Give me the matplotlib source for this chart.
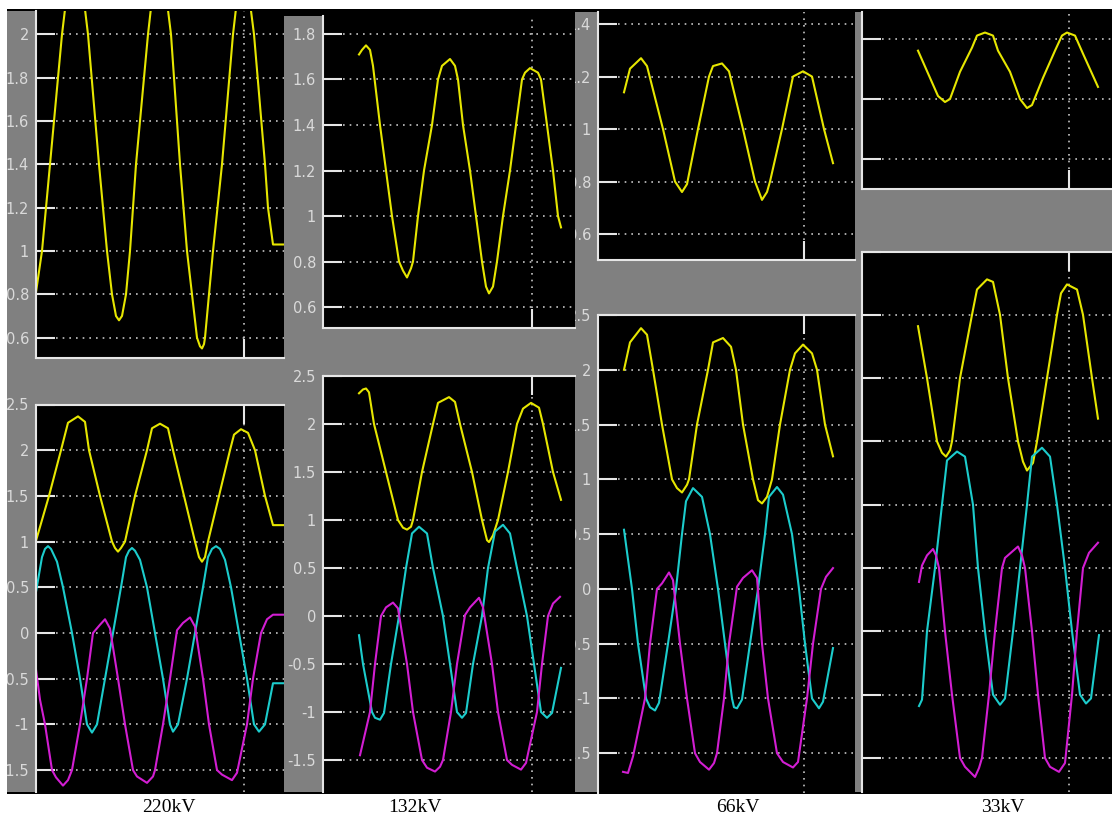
import matplotlib
matplotlib.use('Agg')
import matplotlib.pyplot as plt
from matplotlib.patches import Rectangle
from matplotlib.transforms import Bbox, TransformedBbox
from matplotlib.ticker import FuncFormatter

# --- 数据 (时间 ms, 幅值 pu) ---
# 220kV
T220_TOP = [0, 1.5, 6.5, 9.75, 13, 15.75, 17.75, 19, 20, 20.75, 21.5, 22.5, 23.5, 25, 28, 30.75, 33.75, 36,
            37.75, 39, 40.25, 41, 41.5, 42, 42.25, 44.25, 46.5, 49.25, 51.75, 54.5, 57.25, 58, 59.25, 62]
V220_TOP = [0.81, 1.0, 2.0, 2.5, 2.0, 1.4, 1.0, 0.8, 0.70, 0.68, 0.70, 0.8, 1.0, 1.4, 2.0, 2.45, 2.0, 1.4,
            1.0, 0.8, 0.6, 0.56, 0.55, 0.57, 0.6, 1.0, 1.4, 2.0, 2.4, 2.0, 1.4, 1.2, 1.03, 1.03]
T220_Y = [0, 3.25, 6.25, 8, 10.5, 12.25, 13.25, 16, 19, 19.75, 20.5, 21.25, 22.25, 24.75, 27.75, 29, 31, 33,
          34.25, 37, 39.75, 40.75, 41.5, 42.25, 43, 45.75, 48.5, 49.5, 51.25, 53, 54.75, 57.25, 59.25, 62]
V220_Y = [1.01, 1.5, 2.0, 2.30, 2.37, 2.31, 2.0, 1.5, 1.0, 0.93, 0.89, 0.93, 1.0, 1.5, 2.0, 2.24, 2.29, 2.24,
          2.0, 1.5, 1.0, 0.83, 0.78, 0.83, 1.0, 1.5, 2.0, 2.17, 2.23, 2.19, 2.0, 1.5, 1.18, 1.18]
T220_C = [0, 1.5, 2.25, 3, 3.75, 5.25, 6.75, 9, 11, 12.75, 14, 15.25, 17.25, 19.25, 21.25, 22.5, 23.25, 24,
          24.75, 26, 27.75, 29.75, 31.75, 33.5, 34.25, 35.5, 37.75, 39.75, 41.75, 43, 44, 45, 46, 47.25, 48.75,
          50.75, 52.75, 54.5, 55.75, 57.25, 59.25, 62]
V220_C = [0.45, 0.83, 0.92, 0.95, 0.92, 0.78, 0.5, 0, -0.5, -1.0, -1.09, -1.0, -0.5, 0, 0.5, 0.83, 0.90, 0.93,
          0.90, 0.8, 0.5, 0, -0.5, -1.0, -1.08, -1.0, -0.5, 0, 0.5, 0.83, 0.92, 0.95, 0.92, 0.8, 0.5,
          0, -0.5, -1.0, -1.08, -1.0, -0.55, -0.55]
T220_M = [0, 1, 2.25, 4, 5, 6.75, 8, 9, 11, 12.75, 14.25, 16, 17.25, 18.5, 20.5, 22.25, 24.25, 25.25, 27.75,
          29.25, 29.75, 31.75, 33.5, 35.25, 36.75, 38.5, 39.75, 41.75, 43.25, 45.25, 46.5, 49, 50.25, 52.75,
          54.25, 56.25, 57.75, 59.25, 62]
V220_M = [-0.40, -0.73, -1.0, -1.5, -1.58, -1.67, -1.61, -1.5, -1.0, -0.5, 0.0, 0.09, 0.15, 0.05, -0.5, -1.0,
          -1.5, -1.57, -1.64, -1.57, -1.5, -1.0, -0.5, 0.03, 0.11, 0.17, 0.07, -0.5, -1.0, -1.5, -1.55, -1.61,
          -1.53, -1.0, -0.5, 0.0, 0.15, 0.20, 0.20]

# 132kV
T132_TOP = [9, 9.75, 10.75, 11.75, 12.5, 14.25, 15.75, 17.25, 19, 20, 21, 22, 22.5, 23.75, 25.25, 27.25, 28.75,
            29.75, 31.75, 33, 33.75, 35, 36.75, 38.25, 39.75, 40.75, 41.5, 42.5, 43.5, 45, 46.75, 48.25, 49.75,
            50.5, 51.75, 53.75, 54.5, 56, 57.5, 58.75, 59.5]
V132_TOP = [1.71, 1.73, 1.75, 1.73, 1.66, 1.4, 1.2, 1.0, 0.8, 0.76, 0.73, 0.77, 0.8, 1.0, 1.2, 1.4, 1.6, 1.66,
            1.69, 1.66, 1.6, 1.4, 1.2, 1.0, 0.8, 0.69, 0.66, 0.69, 0.8, 1.0, 1.2, 1.4, 1.6, 1.63, 1.65, 1.63,
            1.6, 1.4, 1.2, 1.0, 0.95]
T132_Y = [9, 10, 10.75, 11.5, 12.75, 15.75, 18.75, 20, 21, 22, 22.5, 24.75, 27.5, 28.75, 31.5, 33, 34.25, 37.25,
          39.75, 41, 41.5, 42.5, 43.75, 46.25, 48.5, 50, 52, 54, 55, 57.5, 59.5]
V132_Y = [2.32, 2.36, 2.37, 2.33, 2.0, 1.5, 1.0, 0.92, 0.90, 0.93, 1.0, 1.5, 2.0, 2.22, 2.28, 2.23, 2.0, 1.5,
          1.0, 0.79, 0.77, 0.84, 1.0, 1.5, 2.0, 2.16, 2.22, 2.17, 2.0, 1.5, 1.21]
T132_C = [9, 10, 12.25, 13, 14.25, 15.25, 17, 19, 20.75, 22.25, 24, 26, 27.5, 30, 31.75, 33.5, 34.75, 35.75,
          37.5, 39.75, 41.25, 43, 45, 46.75, 48.5, 51, 52.75, 54.5, 56, 57.25, 59.5]
V132_C = [-0.20, -0.5, -1.0, -1.06, -1.08, -1.01, -0.5, 0, 0.5, 0.86, 0.93, 0.86, 0.5, 0, -0.5, -1.0, -1.06,
          -1.01, -0.5, 0, 0.5, 0.88, 0.95, 0.86, 0.5, 0, -0.5, -1.0, -1.06, -1.01, -0.54]
T132_M = [9.25, 11.75, 13, 14.5, 15.75, 17.5, 18.75, 21, 22.5, 24.75, 26, 28, 29.25, 30, 32, 33.5, 35.5, 36.75,
          39, 40, 42.25, 43.75, 46, 47.25, 49.5, 50.75, 53.5, 54.75, 56.25, 57.5, 59.25]
V132_M = [-1.45, -1.0, -0.5, 0, 0.09, 0.14, 0.08, -0.5, -1.0, -1.5, -1.58, -1.62, -1.57, -1.5, -1.0, -0.5, 0.01,
          0.09, 0.19, 0.09, -0.5, -1.0, -1.5, -1.55, -1.60, -1.53, -1.0, -0.5, 0, 0.13, 0.20]

# 66kV
T66_TOP = [6.5, 7, 8, 10.75, 12.25, 16.25, 19.25, 21, 22.25, 25, 27.75, 28.75, 31, 32.75, 36.25, 39.25, 41,
           42.25, 43, 46, 48.75, 51.25, 53.5, 56.5, 58.75]
V66_TOP = [1.14, 1.17, 1.23, 1.27, 1.24, 1.0, 0.8, 0.76, 0.79, 1.0, 1.2, 1.24, 1.25, 1.22, 1.0, 0.8, 0.73,
           0.76, 0.8, 1.0, 1.2, 1.22, 1.2, 1.0, 0.87]
T66_Y = [6.5, 8, 10.75, 12.25, 13.75, 16, 18.5, 19.75, 21, 22.25, 22.75, 24.75, 27.5, 28.75, 31.25, 33.25, 34.5,
         36.25, 38.75, 40, 41, 42.25, 43.5, 45.5, 48, 49.25, 51.25, 53.5, 54.75, 56.75, 58.75]
V66_Y = [2.0, 2.25, 2.38, 2.32, 2.0, 1.5, 1.0, 0.92, 0.88, 0.95, 1.0, 1.5, 2.0, 2.25, 2.29, 2.21, 2.0, 1.5,
         1.0, 0.81, 0.78, 0.84, 1.0, 1.5, 2.0, 2.15, 2.23, 2.15, 2.0, 1.5, 1.21]
T66_C = [6.5, 8.5, 10, 12, 13, 14.25, 15.25, 17.5, 19.5, 21, 22, 23.75, 26, 28, 30, 31.75, 33.5, 34, 34.75, 36,
         38, 40, 41.75, 42.75, 44.75, 46.25, 48.5, 50.25, 51.75, 53.5, 55.25, 56.25, 58.75]
V66_C = [0.54, 0, -0.5, -1.0, -1.08, -1.11, -1.04, -0.5, 0, 0.5, 0.80, 0.92, 0.84, 0.5, 0, -0.5, -1.0, -1.08,
         -1.09, -1.01, -0.5, 0, 0.5, 0.84, 0.93, 0.86, 0.5, 0, -0.5, -1.0, -1.09, -1.03, -0.54]
T66_M = [6.25, 7.5, 8.75, 11.75, 13, 14.75, 16, 17.75, 18.75, 20.5, 22.25, 24.25, 25.5, 27.75, 29, 29.75, 31.5,
         32.75, 34.75, 36.25, 38.5, 39.75, 41, 42.5, 44.75, 46.25, 48.75, 50, 52.25, 53.75, 55.75, 57, 58.75]
V66_M = [-1.67, -1.68, -1.53, -1.0, -0.5, 0, 0.05, 0.15, 0.08, -0.5, -1.0, -1.5, -1.58, -1.65, -1.59, -1.5,
         -1.0, -0.5, 0.02, 0.10, 0.17, 0.10, -0.5, -1.0, -1.5, -1.58, -1.63, -1.58, -1.0, -0.5, 0, 0.11, 0.19]

# 33kV
T33_TOP = [14, 17, 19, 20.75, 22, 24.5, 27.5, 28.75, 30.75, 32.75, 34, 37, 39.5, 41.25, 42.5, 45.25, 48.25, 50,
           51.25, 53.25, 55.25, 59]
V33_TOP = [1.16, 1.07, 1.01, 0.99, 1.0, 1.09, 1.17, 1.21, 1.22, 1.21, 1.16, 1.09, 1.0, 0.97, 0.98, 1.07, 1.16,
           1.21, 1.22, 1.21, 1.15, 1.04]
T33_Y = [14, 16.25, 18.75, 20, 21, 22, 22.5, 24.5, 27.5, 28.75, 31.25, 32.75, 34.5, 36.5, 39, 40.25, 41.25,
         42.75, 43.75, 46.25, 48.75, 49.75, 51.25, 53.75, 55.25, 57.5, 59]
V33_Y = [1.91, 1.5, 1.0, 0.91, 0.88, 0.93, 1.0, 1.5, 2.0, 2.20, 2.28, 2.26, 2.0, 1.5, 1.0, 0.84, 0.77, 0.83,
         1.0, 1.5, 2.0, 2.17, 2.24, 2.2, 2.0, 1.5, 1.18]
T33_C = [14.25, 15, 16.25, 18.25, 20, 21.25, 23.75, 25.75, 27.75, 29, 30.75, 32.75, 34.5, 35.75, 37.75, 39.5,
         41.25, 42.5, 45, 47, 48.75, 50.75, 52.5, 54.5, 56, 57.25, 59.25]
V33_C = [-1.09, -1.04, -0.5, 0, 0.5, 0.85, 0.92, 0.88, 0.5, 0, -0.5, -1.0, -1.08, -1.03, -0.5, 0, 0.5, 0.88,
         0.95, 0.88, 0.5, 0, -0.5, -1.0, -1.07, -1.03, -0.53]
T33_M = [14.25, 15, 16.25, 17.75, 18.5, 19.25, 20.75, 22.5, 24.5, 25.75, 28.25, 29.25, 30, 31.75, 33.25, 35,
         35.75, 39, 40, 40.75, 42.5, 44, 45.75, 47, 49.25, 50.75, 52.5, 53.75, 55.25, 56.75, 59]
V33_M = [-0.11, 0.02, 0.10, 0.15, 0.10, 0, -0.5, -1.0, -1.5, -1.57, -1.65, -1.58, -1.5, -1.0, -0.5, 0, 0.08,
         0.17, 0.10, 0, -0.5, -1.0, -1.5, -1.57, -1.61, -1.54, -1.0, -0.5, 0, 0.12, 0.20]

LABELS = ['220kV', '132kV', '66kV', '33kV']
TICKS_BOTTOM = [-1.5, -1, -0.5, 0, 0.5, 1, 1.5, 2, 2.5]

# --- 样式 ---
W, H = 1112, 819
YEL, CYA, MAG = '#e6e600', '#1ccccc', '#d21ed2'
GREY = '#808080'
SPINE = '#e6e6e6'
GRID = '#c4c4c4'
LABEL = '#dadada'

plt.rcParams['axes.unicode_minus'] = False
fig = plt.figure(figsize=(W / 100, H / 100), dpi=100, facecolor='white')


def frac(x0, y0, x1, y1):
    # 像素框(左上原点) -> figure 坐标
    return [x0 / W, 1 - y1 / H, (x1 - x0) / W, (y1 - y0) / H]


def add_rect(box, color):
    l, b, w, h = frac(*box)
    fig.add_artist(Rectangle((l, b), w, h, transform=fig.transFigure,
                             facecolor=color, edgecolor='none', zorder=-10))


def panel(box, col_box, xlim, xtick, ylim, yticks, traces, top_panel):
    ax = fig.add_axes(frac(*box))
    ax.set_facecolor('black')
    for t, v, c in traces:
        ax.plot(t, v, color=c, lw=1.5)
    ax.set_xlim(xlim)
    ax.set_ylim(ylim)
    ax.set_xticks([xtick])
    ax.set_yticks(yticks)
    ax.yaxis.set_major_formatter(FuncFormatter(lambda v, p: '%g' % v))
    ax.tick_params(direction='in', length=14, width=1.5, color=SPINE,
                   labelcolor=LABEL, labelsize=10.5, pad=5)
    ax.tick_params(axis='x', labelbottom=False, bottom=top_panel, top=not top_panel)
    ax.tick_params(axis='y', right=False)
    ax.grid(True, color=GRID, linestyle=(0, (1, 3)), linewidth=1.2)
    for side, sp in ax.spines.items():
        sp.set_color(SPINE)
        sp.set_linewidth(1.5)
    ax.spines['right'].set_visible(False)
    ax.spines['top'].set_visible(not top_panel)
    ax.spines['bottom'].set_visible(top_panel)
    l, b, w, h = frac(*col_box)
    clip = TransformedBbox(Bbox.from_bounds(l, b, w, h), fig.transFigure)
    for lab in ax.get_yticklabels():
        lab.set_clip_box(clip)
        lab.set_clip_on(True)
        lab.set_family('DejaVu Sans')
    return ax


# 背景
add_rect((7, 9, 1112, 794), 'black')
COL_BOXES = [(7, 11, 284, 792), (284, 16, 575, 792), (575, 12, 855, 792), (855, 12, 1112, 792)]
for cb in COL_BOXES:
    add_rect(cb, GREY)

# 220kV
panel((36, 11, 284, 358), COL_BOXES[0], (0, 62), 52, (0.506, 2.108),
      [0.6, 0.8, 1, 1.2, 1.4, 1.6, 1.8, 2], [(T220_TOP, V220_TOP, YEL)], True)
panel((36, 404.5, 284, 792), COL_BOXES[0], (0, 62), 52, (-1.74, 2.5), TICKS_BOTTOM,
      [(T220_Y, V220_Y, YEL), (T220_C, V220_C, CYA), (T220_M, V220_M, MAG)], False)

# 132kV
panel((323, 16, 575, 328), COL_BOXES[1], (0, 63), 52.25, (0.508, 1.879),
      [0.6, 0.8, 1, 1.2, 1.4, 1.6, 1.8], [(T132_TOP, V132_TOP, YEL)], True)
panel((323, 376, 575, 792), COL_BOXES[1], (0, 63), 52.25, (-1.833, 2.5), TICKS_BOTTOM,
      [(T132_Y, V132_Y, YEL), (T132_C, V132_C, CYA), (T132_M, V132_M, MAG)], False)

# 66kV
panel((598, 12, 855, 260), COL_BOXES[2], (0, 64.25), 51.5, (0.501, 1.446),
      [0.6, 0.8, 1, 1.2, 1.4], [(T66_TOP, V66_TOP, YEL)], True)
panel((598, 315, 855, 793), COL_BOXES[2], (0, 64.25), 51.5, (-1.863, 2.5), TICKS_BOTTOM,
      [(T66_Y, V66_Y, YEL), (T66_C, V66_C, CYA), (T66_M, V66_M, MAG)], False)

# 33kV
panel((862, 12, 1112, 189), COL_BOXES[3], (0, 62.5), 51.75, (0.702, 1.288),
      [0.8, 1.0, 1.2], [(T33_TOP, V33_TOP, YEL)], True)
panel((862, 251.5, 1112, 792), COL_BOXES[3], (0, 62.5), 51.75, (-1.769, 2.5), TICKS_BOTTOM,
      [(T33_Y, V33_Y, YEL), (T33_C, V33_C, CYA), (T33_M, V33_M, MAG)], False)

# 底部电压等级标注
for xc, txt in zip([169, 415, 738, 1003], LABELS):
    fig.text(xc / W, 1 - 808 / H, txt, ha='center', va='center',
             family='Liberation Serif', fontsize=14, color='black')

fig.savefig('out.png', dpi=100, facecolor=fig.get_facecolor())
